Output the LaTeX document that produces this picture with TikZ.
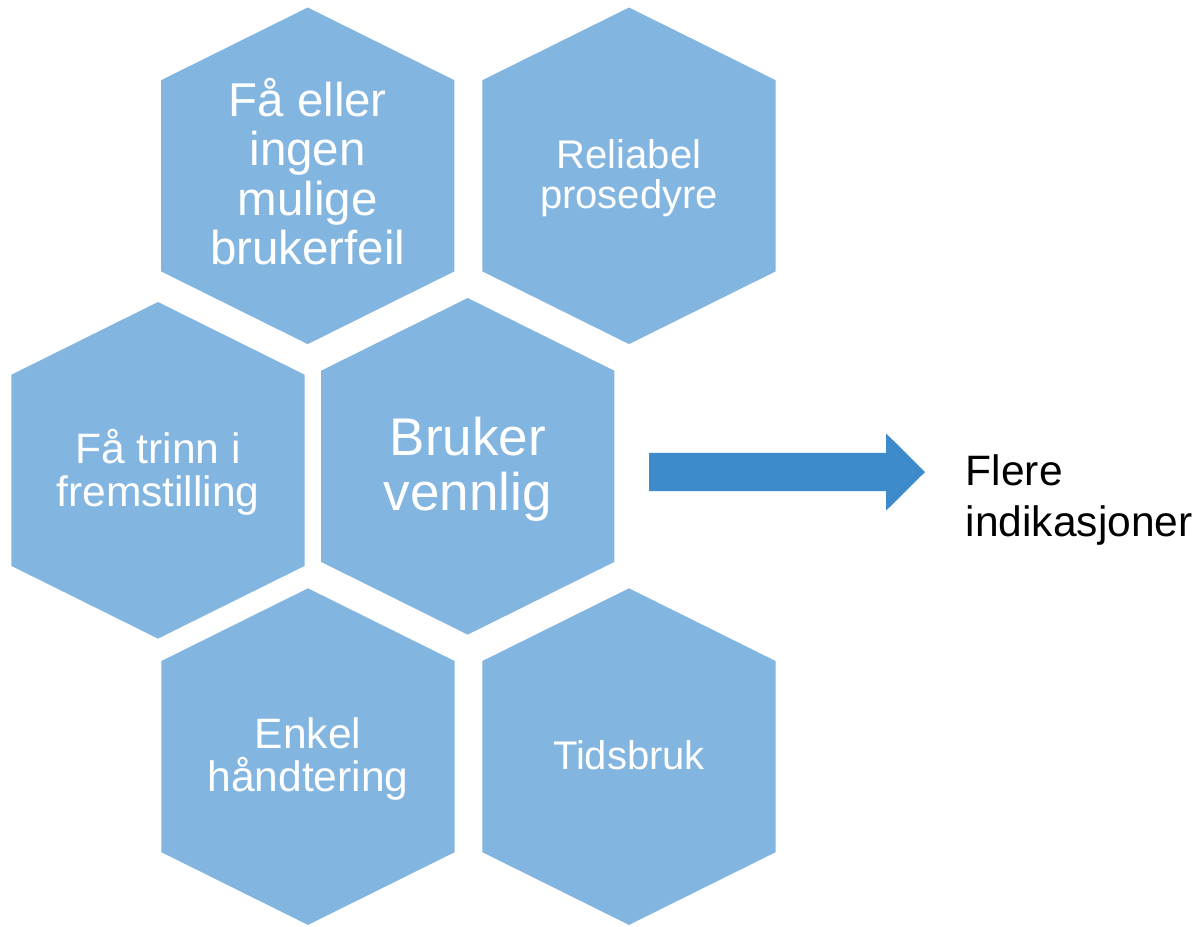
\documentclass[tikz,border=0pt]{standalone}
\usepackage{fontspec}
\setmainfont{Liberation Sans}
\usepackage{tikz}
\usetikzlibrary{calc}
\definecolor{HexFill}{HTML}{83B5E1}
\definecolor{ArrowFill}{HTML}{3E8BCB}

\begin{document}
\begin{tikzpicture}[x=0.75pt, y=-0.75pt,
  hexcell/.pic={\fill[HexFill] (-146.6,-95.6) -- (0,-168.3) -- (146.6,-95.6)
    -- (146.6,95.6) -- (0,168.3) -- (-146.6,95.6) -- cycle;},
  hexlabel/.style={text=white, align=center, inner sep=0pt}]
  \useasboundingbox (0,0) rectangle (1199,926);
  \pic at (307.7,175.8) {hexcell};
  \pic at (629,175.8) {hexcell};
  \pic at (158,470.3) {hexcell};
  \pic at (467.7,466.3) {hexcell};
  \pic at (308,756.6) {hexcell};
  \pic at (629,756.6) {hexcell};
  \node[hexlabel, font=\fontsize{35.6pt}{37pt}\selectfont] (feil) at (307.7,171.5) {Få eller\\ingen\\mulige\\brukerfeil};
  \node[hexlabel, font=\fontsize{30pt}{30pt}\selectfont] (reliabel) at (629,178.2) {Reliabel\\prosedyre};
  \node[hexlabel, font=\fontsize{31.9pt}{32.5pt}\selectfont] (trinn) at (158,472) {Få trinn i\\fremstilling};
  \node[hexlabel, font=\fontsize{39.75pt}{41.25pt}\selectfont] (bruker) at (467.7,469) {Bruker\\vennlig};
  \node[hexlabel, font=\fontsize{31.9pt}{32.5pt}\selectfont] (handtering) at (308,759.3) {Enkel\\håndtering};
  \node[hexlabel, font=\fontsize{30pt}{30pt}\selectfont] (tidsbruk) at (629,754.7) {Tidsbruk};
  \node[anchor=west, align=left, inner sep=0pt, font=\fontsize{31.9pt}{38.25pt}\selectfont] (flere) at (965.5,499.8) {Flere\\indikasjoner};
  \coordinate (tail) at (649,472);
  \coordinate (tip) at (925,472);
  \fill[ArrowFill] ($(tail)+(0,-19.2)$) -- ($(tip)+(-39,-19.2)$) -- ($(tip)+(-39,-38.7)$) -- (tip)
    -- ($(tip)+(-39,38.7)$) -- ($(tip)+(-39,19.2)$) -- ($(tail)+(0,19.2)$) -- cycle;
\end{tikzpicture}
\end{document}
